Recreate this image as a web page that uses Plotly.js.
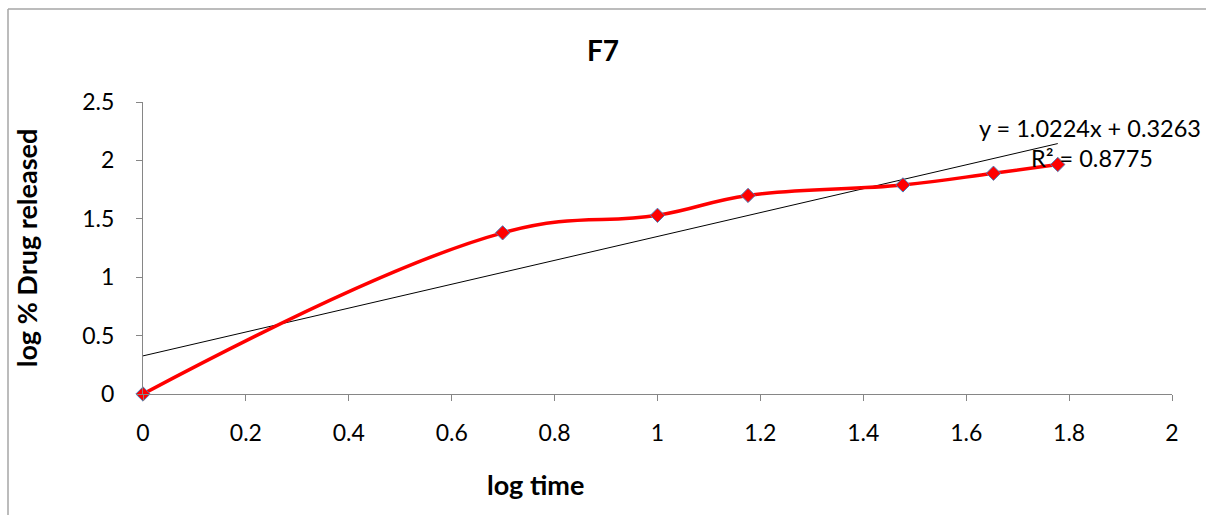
<!DOCTYPE html>
<html>
<head>
<meta charset="utf-8">
<script src="https://cdn.plot.ly/plotly-3.0.1.min.js"></script>
<style>
  html, body { margin: 0; padding: 0; background: #fff; }
  #chart { width: 1206px; height: 515px; }
</style>
</head>
<body>
<div id="chart"></div>
<script>
// Data
const logTime = [0, 0.699, 1, 1.176, 1.477, 1.653, 1.778];
const logDrugReleased = [0, 1.38, 1.53, 1.70, 1.79, 1.89, 1.965];

// Linear trendline as printed on the chart
const trendSlope = 1.0224;
const trendIntercept = 0.3263;
const trendR2 = 0.8775;
const trendX = [0, 1.778];
const trendY = trendX.map(x => trendSlope * x + trendIntercept);

const xTicks = [0, 0.2, 0.4, 0.6, 0.8, 1, 1.2, 1.4, 1.6, 1.8, 2];
const xTickText = ['0', '0.2', '0.4', '0.6', '0.8', '1', '1.2', '1.4', '1.6', '1.8', '2'];
const yTicks = [0, 0.5, 1, 1.5, 2, 2.5];
const yTickText = ['0', '0.5', '1', '1.5', '2', '2.5'];

const FONT = 'Lato, "Open Sans", "Liberation Sans", sans-serif';

const traces = [
  {
    x: trendX, y: trendY, type: 'scatter', mode: 'lines',
    line: { color: '#000000', width: 1 },
    hoverinfo: 'skip', showlegend: false
  },
  {
    x: logTime, y: logDrugReleased, type: 'scatter', mode: 'lines+markers',
    line: { color: '#ff0000', width: 3.5, shape: 'spline', smoothing: 1.2 },
    marker: { symbol: 'diamond', size: 11, color: '#ff0000', line: { color: '#4a7ebb', width: 1 } },
    cliponaxis: false,
    showlegend: false
  }
];

const layout = {
  width: 1206, height: 515,
  margin: { l: 143, r: 34, t: 102, b: 121 },
  paper_bgcolor: '#ffffff', plot_bgcolor: '#ffffff',
  font: { family: FONT, color: '#000000', size: 23 },
  showlegend: false,
  title: {
    text: '<b>F7</b>', xref: 'container', yref: 'container',
    x: 603 / 1206, y: 1 - 51 / 515, xanchor: 'center', yanchor: 'middle',
    font: { family: FONT, size: 28, color: '#000' }
  },
  xaxis: {
    range: [0, 2], tickvals: xTicks, ticktext: xTickText,
    showgrid: false, zeroline: false, showline: true, linecolor: '#868686', linewidth: 1,
    ticks: 'outside', ticklen: 6, tickcolor: '#868686', tickwidth: 1,
    ticklabelstandoff: 12,
    tickfont: { family: FONT, size: 23 }
  },
  yaxis: {
    range: [0, 2.5], tickvals: yTicks, ticktext: yTickText,
    showgrid: false, zeroline: false, showline: true, linecolor: '#868686', linewidth: 1,
    ticks: 'outside', ticklen: 6, tickcolor: '#868686', tickwidth: 1,
    ticklabelstandoff: 17,
    tickfont: { family: FONT, size: 23 },
    title: { text: '<b>log % Drug released</b>', standoff: 36, font: { family: FONT, size: 27 } }
  },
  annotations: [
    {
      xref: 'paper', yref: 'paper',
      x: (535 - 143) / 1029, y: (394 - 484) / 292, xanchor: 'center', yanchor: 'middle',
      text: '<b>log time</b>',
      showarrow: false, font: { family: FONT, size: 27, color: '#000' }
    },
    {
      xref: 'paper', yref: 'paper',
      x: (977 - 143) / 1029, y: (394 - 128) / 292, xanchor: 'left', yanchor: 'middle',
      text: 'y = ' + trendSlope.toFixed(4) + 'x + ' + trendIntercept.toFixed(4),
      showarrow: false, font: { family: FONT, size: 23.5, color: '#000' }
    },
    {
      xref: 'paper', yref: 'paper',
      x: (1029 - 143) / 1029, y: (394 - 158) / 292, xanchor: 'left', yanchor: 'middle',
      text: 'R² = ' + trendR2.toFixed(4),
      showarrow: false, font: { family: FONT, size: 23.5, color: '#000' }
    }
  ],
  shapes: [
    { type: 'line', xref: 'paper', yref: 'paper', x0: (8 - 143) / 1029, x1: (1206 - 143) / 1029,
      y0: (394 - 9) / 292, y1: (394 - 9) / 292, line: { color: '#a6a6a6', width: 1.5 } },
    { type: 'line', xref: 'paper', yref: 'paper', x0: (8 - 143) / 1029, x1: (8 - 143) / 1029,
      y0: (394 - 9) / 292, y1: (394 - 515) / 292, line: { color: '#a6a6a6', width: 1.5 } }
  ]
};

Plotly.newPlot('chart', traces, layout, { staticPlot: true, displayModeBar: false });
</script>
</body>
</html>
